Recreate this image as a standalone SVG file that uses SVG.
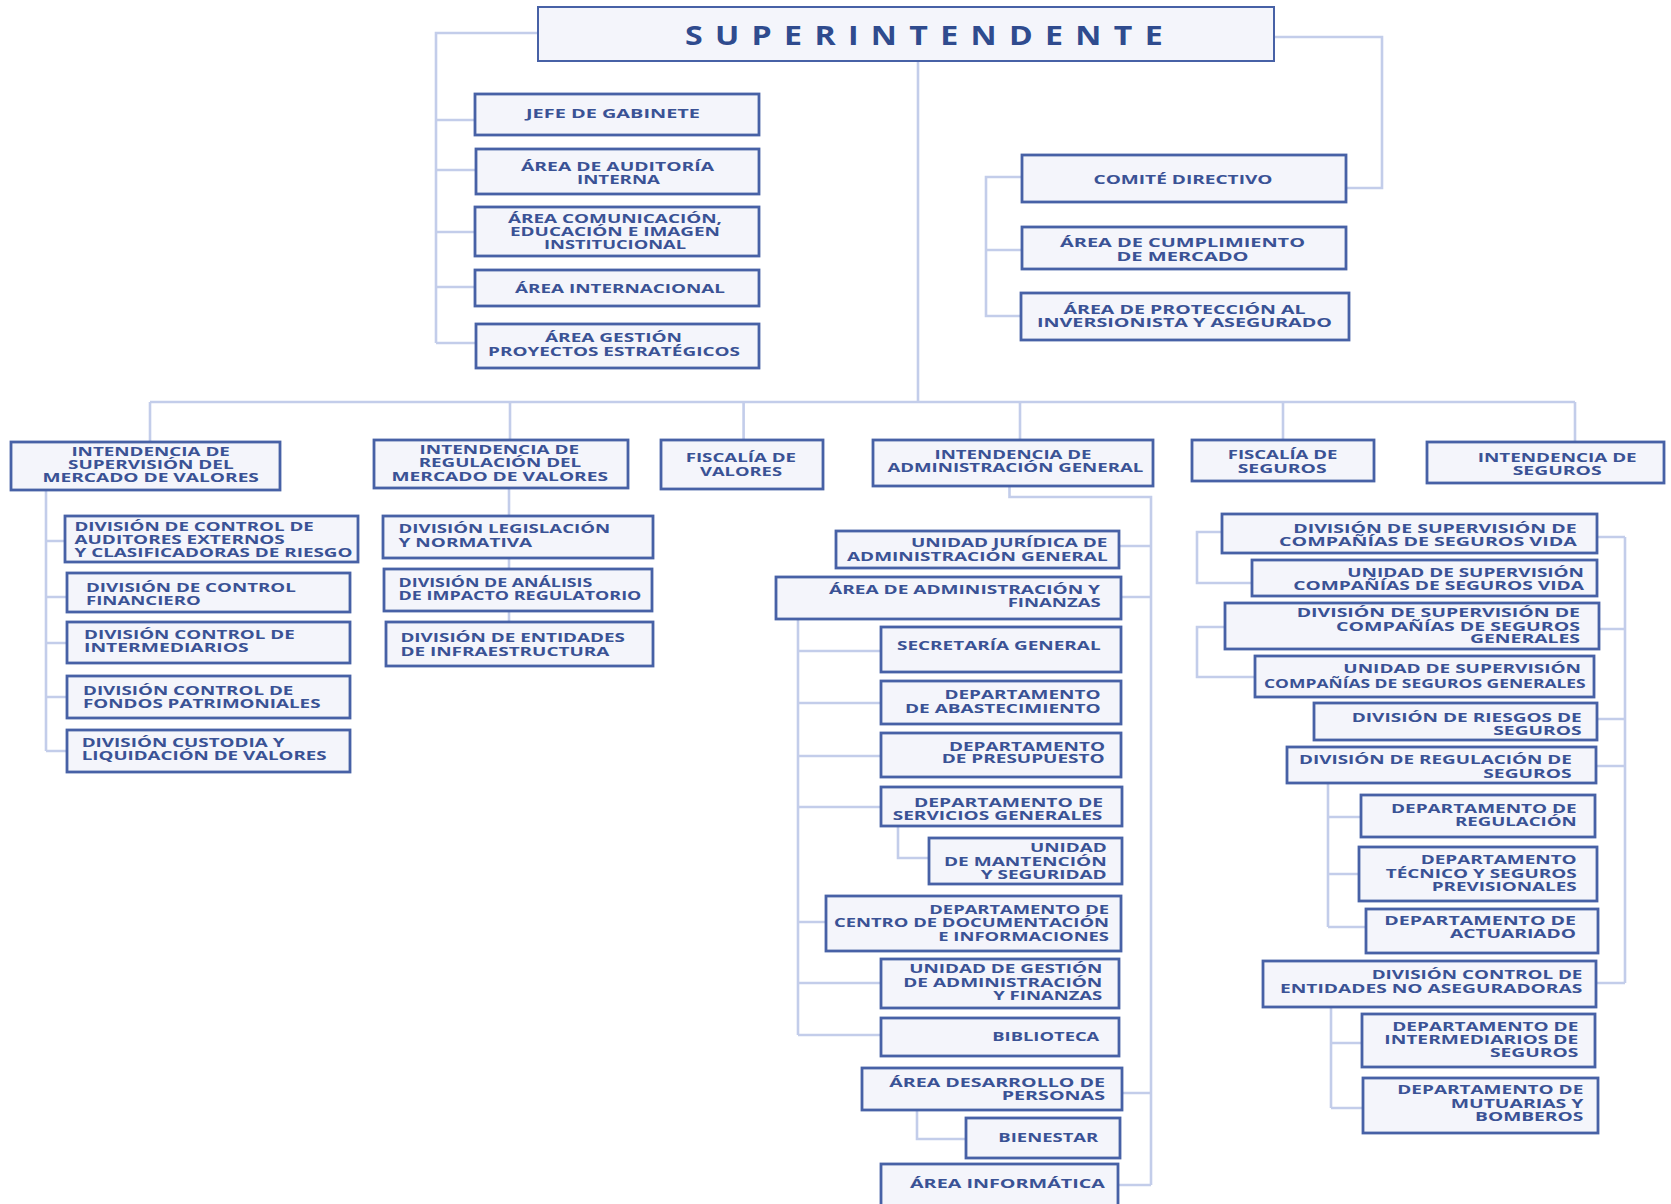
<svg xmlns="http://www.w3.org/2000/svg" width="1671" height="1204" viewBox="0 0 1671 1204">
<style>
.box{fill:#f4f5fb;stroke:#4761a6;stroke-width:2.8}
.top{stroke-width:2}
.t{font-family:"Open Sans","Liberation Sans",sans-serif;font-weight:700;font-size:13px;fill:#3a5295}
.title{font-family:"Open Sans","Liberation Sans",sans-serif;font-weight:700;font-size:26px;letter-spacing:10px;fill:#2f4b8e}
.c{fill:none;stroke:#c3cdea;stroke-width:2.6}
</style>
<rect width="1671" height="1204" fill="#ffffff"/>
<g id="connectors" class="c">
<path d="M538 33H436V343M436 120H475M436 170H476M436 232H475M436 287H475M436 343H476"/>
<path d="M1274 37H1382V188H1346"/>
<path d="M1022 177H986V316H1021M986 250H1022"/>
<path d="M918 61V402M150 402H1575M150 402V442M510 402V440M743.6 402V440M1020 402V440M1283 402V440M1575 402V442"/>
<path d="M46 490V751M46 541H65M46 597H67M46 643H67M46 697H67M46 751H67"/>
<path d="M509 488V622"/>
<path d="M1009.5 486V497H1151V1185M1119 546H1151M1121 597H1151M1122 1093H1151M1118 1185H1151"/>
<path d="M798 619V1035M798 651H881M798 703H881M798 756H881M798 807H881M798 922H826M798 983H881M798 1035H881"/>
<path d="M898 826V858H929"/>
<path d="M917 1110V1139H966"/>
<path d="M1625 537V983M1597 537H1625M1599 629H1625M1597 719H1625M1596 766H1625M1596 983H1625"/>
<path d="M1222 532H1197V583H1252M1225 627H1197V677H1255"/>
<path d="M1328 783V927M1328 817H1361M1328 874H1359M1328 927H1366"/>
<path d="M1331 1007V1108M1331 1043H1362M1331 1108H1363"/>
</g>
<g id="superintendente"><rect class="box top" x="538" y="7" width="736" height="54"/><text class="title" x="685" y="44.5" textLength="490" lengthAdjust="spacingAndGlyphs">SUPERINTENDENTE</text></g>
<g id="jefe-gabinete"><rect class="box" x="475" y="94" width="284" height="41"/><text class="t" x="526" y="117.7" textLength="174" lengthAdjust="spacingAndGlyphs">JEFE DE GABINETE</text></g>
<g id="auditoria"><rect class="box" x="476" y="149" width="283" height="45"/><text class="t" x="521" y="170.7" textLength="193" lengthAdjust="spacingAndGlyphs">ÁREA DE AUDITORÍA</text><text class="t" x="577" y="184" textLength="83" lengthAdjust="spacingAndGlyphs">INTERNA</text></g>
<g id="comunicacion"><rect class="box" x="475" y="207" width="284" height="49"/><text class="t" x="508" y="223.3" textLength="214" lengthAdjust="spacingAndGlyphs">ÁREA COMUNICACIÓN,</text><text class="t" x="510" y="236" textLength="210" lengthAdjust="spacingAndGlyphs">EDUCACIÓN E IMAGEN</text><text class="t" x="544" y="249.3" textLength="142" lengthAdjust="spacingAndGlyphs">INSTITUCIONAL</text></g>
<g id="internacional"><rect class="box" x="475" y="270" width="284" height="36"/><text class="t" x="515" y="292.7" textLength="210" lengthAdjust="spacingAndGlyphs">ÁREA INTERNACIONAL</text></g>
<g id="gestion-proyectos"><rect class="box" x="476" y="324" width="283" height="44"/><text class="t" x="545" y="342.3" textLength="137" lengthAdjust="spacingAndGlyphs">ÁREA GESTIÓN</text><text class="t" x="488" y="355.7" textLength="252" lengthAdjust="spacingAndGlyphs">PROYECTOS ESTRATÉGICOS</text></g>
<g id="comite"><rect class="box" x="1022" y="155" width="324" height="47"/><text class="t" x="1093.5" y="184.3" textLength="179" lengthAdjust="spacingAndGlyphs">COMITÉ DIRECTIVO</text></g>
<g id="cumplimiento"><rect class="box" x="1022" y="227" width="324" height="42"/><text class="t" x="1060" y="247.3" textLength="245" lengthAdjust="spacingAndGlyphs">ÁREA DE CUMPLIMIENTO</text><text class="t" x="1116.5" y="260.7" textLength="132" lengthAdjust="spacingAndGlyphs">DE MERCADO</text></g>
<g id="proteccion"><rect class="box" x="1021" y="293" width="328" height="47"/><text class="t" x="1063.5" y="314" textLength="242" lengthAdjust="spacingAndGlyphs">ÁREA DE PROTECCIÓN AL</text><text class="t" x="1037" y="327.3" textLength="295" lengthAdjust="spacingAndGlyphs">INVERSIONISTA Y ASEGURADO</text></g>
<g id="ismv"><rect class="box" x="11" y="442" width="269" height="48"/><text class="t" x="71.4" y="455.7" textLength="158.5" lengthAdjust="spacingAndGlyphs">INTENDENCIA DE</text><text class="t" x="68" y="469" textLength="165.6" lengthAdjust="spacingAndGlyphs">SUPERVISIÓN DEL</text><text class="t" x="42.4" y="482.3" textLength="216.5" lengthAdjust="spacingAndGlyphs">MERCADO DE VALORES</text></g>
<g id="irmv"><rect class="box" x="374" y="440" width="254" height="48"/><text class="t" x="419.6" y="454" textLength="159.4" lengthAdjust="spacingAndGlyphs">INTENDENCIA DE</text><text class="t" x="418.7" y="467.3" textLength="162.5" lengthAdjust="spacingAndGlyphs">REGULACIÓN DEL</text><text class="t" x="391.5" y="480.7" textLength="216.5" lengthAdjust="spacingAndGlyphs">MERCADO DE VALORES</text></g>
<g id="fiscalia-valores"><rect class="box" x="661" y="440" width="162" height="49"/><text class="t" x="685.7" y="462.3" textLength="110.3" lengthAdjust="spacingAndGlyphs">FISCALÍA DE</text><text class="t" x="700" y="475.7" textLength="82" lengthAdjust="spacingAndGlyphs">VALORES</text></g>
<g id="iag"><rect class="box" x="873" y="440" width="280" height="46"/><text class="t" x="934.5" y="459" textLength="157" lengthAdjust="spacingAndGlyphs">INTENDENCIA DE</text><text class="t" x="887.4" y="472.3" textLength="256" lengthAdjust="spacingAndGlyphs">ADMINISTRACIÓN GENERAL</text></g>
<g id="fiscalia-seguros"><rect class="box" x="1192" y="440" width="182" height="41"/><text class="t" x="1227.7" y="459.3" textLength="109.7" lengthAdjust="spacingAndGlyphs">FISCALÍA DE</text><text class="t" x="1237.7" y="472.7" textLength="89" lengthAdjust="spacingAndGlyphs">SEGUROS</text></g>
<g id="iseg"><rect class="box" x="1427" y="442" width="237" height="41"/><text class="t" x="1477.7" y="461.7" textLength="159" lengthAdjust="spacingAndGlyphs">INTENDENCIA DE</text><text class="t" x="1512.7" y="475" textLength="89" lengthAdjust="spacingAndGlyphs">SEGUROS</text></g>
<g id="div-auditores"><rect class="box" x="65" y="516" width="293" height="46"/><text class="t" x="74.5" y="530.7" textLength="239.3" lengthAdjust="spacingAndGlyphs">DIVISIÓN DE CONTROL DE</text><text class="t" x="74.5" y="544" textLength="210.3" lengthAdjust="spacingAndGlyphs">AUDITORES EXTERNOS</text><text class="t" x="74.5" y="557.3" textLength="278" lengthAdjust="spacingAndGlyphs">Y CLASIFICADORAS DE RIESGO</text></g>
<g id="div-financiero"><rect class="box" x="67" y="573" width="283" height="39"/><text class="t" x="86" y="592.3" textLength="209.8" lengthAdjust="spacingAndGlyphs">DIVISIÓN DE CONTROL</text><text class="t" x="86" y="605" textLength="114.7" lengthAdjust="spacingAndGlyphs">FINANCIERO</text></g>
<g id="div-intermediarios"><rect class="box" x="67" y="622" width="283" height="41"/><text class="t" x="84" y="639.3" textLength="210.7" lengthAdjust="spacingAndGlyphs">DIVISIÓN CONTROL DE</text><text class="t" x="84" y="652.3" textLength="164.7" lengthAdjust="spacingAndGlyphs">INTERMEDIARIOS</text></g>
<g id="div-fondos"><rect class="box" x="67" y="676" width="283" height="42"/><text class="t" x="83" y="695" textLength="210.3" lengthAdjust="spacingAndGlyphs">DIVISIÓN CONTROL DE</text><text class="t" x="83" y="708.3" textLength="237.5" lengthAdjust="spacingAndGlyphs">FONDOS PATRIMONIALES</text></g>
<g id="div-custodia"><rect class="box" x="67" y="730" width="283" height="42"/><text class="t" x="81.7" y="746.7" textLength="202.7" lengthAdjust="spacingAndGlyphs">DIVISIÓN CUSTODIA Y</text><text class="t" x="81.7" y="760" textLength="245" lengthAdjust="spacingAndGlyphs">LIQUIDACIÓN DE VALORES</text></g>
<g id="div-legislacion"><rect class="box" x="383" y="516" width="270" height="42"/><text class="t" x="398.6" y="533.3" textLength="211.6" lengthAdjust="spacingAndGlyphs">DIVISIÓN LEGISLACIÓN</text><text class="t" x="398.6" y="546.7" textLength="133.5" lengthAdjust="spacingAndGlyphs">Y NORMATIVA</text></g>
<g id="div-analisis"><rect class="box" x="384" y="569" width="268" height="42"/><text class="t" x="398.6" y="586.7" textLength="193.7" lengthAdjust="spacingAndGlyphs">DIVISIÓN DE ANÁLISIS</text><text class="t" x="398.6" y="600" textLength="242.8" lengthAdjust="spacingAndGlyphs">DE IMPACTO REGULATORIO</text></g>
<g id="div-entidades-infra"><rect class="box" x="386" y="622" width="267" height="44"/><text class="t" x="400.4" y="642.3" textLength="224.5" lengthAdjust="spacingAndGlyphs">DIVISIÓN DE ENTIDADES</text><text class="t" x="400.4" y="655.7" textLength="209" lengthAdjust="spacingAndGlyphs">DE INFRAESTRUCTURA</text></g>
<g id="unidad-juridica"><rect class="box" x="836" y="531" width="283" height="37"/><text class="t" x="911" y="547.3" textLength="196.4" lengthAdjust="spacingAndGlyphs">UNIDAD JURÍDICA DE</text><text class="t" x="847" y="560.7" textLength="260.7" lengthAdjust="spacingAndGlyphs">ADMINISTRACIÓN GENERAL</text></g>
<g id="area-adm-finanzas"><rect class="box" x="776" y="577" width="345" height="42"/><text class="t" x="829" y="594.3" textLength="271" lengthAdjust="spacingAndGlyphs">ÁREA DE ADMINISTRACIÓN Y</text><text class="t" x="1007.7" y="607.3" textLength="93" lengthAdjust="spacingAndGlyphs">FINANZAS</text></g>
<g id="secretaria"><rect class="box" x="881" y="627" width="240" height="45"/><text class="t" x="897" y="650" textLength="203.6" lengthAdjust="spacingAndGlyphs">SECRETARÍA GENERAL</text></g>
<g id="abastecimiento"><rect class="box" x="881" y="681" width="240" height="43"/><text class="t" x="944.5" y="699" textLength="156" lengthAdjust="spacingAndGlyphs">DEPARTAMENTO</text><text class="t" x="905" y="712.7" textLength="195.7" lengthAdjust="spacingAndGlyphs">DE ABASTECIMIENTO</text></g>
<g id="presupuesto"><rect class="box" x="881" y="733" width="240" height="44"/><text class="t" x="949" y="750.7" textLength="156" lengthAdjust="spacingAndGlyphs">DEPARTAMENTO</text><text class="t" x="941.7" y="763.3" textLength="163" lengthAdjust="spacingAndGlyphs">DE PRESUPUESTO</text></g>
<g id="servicios-generales"><rect class="box" x="881" y="787" width="241" height="39"/><text class="t" x="914" y="806.5" textLength="189" lengthAdjust="spacingAndGlyphs">DEPARTAMENTO DE</text><text class="t" x="892.7" y="820" textLength="209.7" lengthAdjust="spacingAndGlyphs">SERVICIOS GENERALES</text></g>
<g id="mantencion"><rect class="box" x="929" y="838" width="193" height="46"/><text class="t" x="1030" y="852.3" textLength="76.7" lengthAdjust="spacingAndGlyphs">UNIDAD</text><text class="t" x="944" y="865.7" textLength="162.7" lengthAdjust="spacingAndGlyphs">DE MANTENCIÓN</text><text class="t" x="980.7" y="879" textLength="126" lengthAdjust="spacingAndGlyphs">Y SEGURIDAD</text></g>
<g id="centro-documentacion"><rect class="box" x="826" y="896" width="295" height="55"/><text class="t" x="929.3" y="914" textLength="179.7" lengthAdjust="spacingAndGlyphs">DEPARTAMENTO DE</text><text class="t" x="834" y="927.3" textLength="275" lengthAdjust="spacingAndGlyphs">CENTRO DE DOCUMENTACIÓN</text><text class="t" x="938.3" y="940.7" textLength="170.7" lengthAdjust="spacingAndGlyphs">E INFORMACIONES</text></g>
<g id="unidad-gestion"><rect class="box" x="881" y="959" width="238" height="49"/><text class="t" x="909.3" y="973.3" textLength="193" lengthAdjust="spacingAndGlyphs">UNIDAD DE GESTIÓN</text><text class="t" x="903.3" y="986.7" textLength="199" lengthAdjust="spacingAndGlyphs">DE ADMINISTRACIÓN</text><text class="t" x="993.3" y="1000" textLength="109" lengthAdjust="spacingAndGlyphs">Y FINANZAS</text></g>
<g id="biblioteca"><rect class="box" x="881" y="1018" width="238" height="38"/><text class="t" x="992.3" y="1040.7" textLength="107" lengthAdjust="spacingAndGlyphs">BIBLIOTECA</text></g>
<g id="desarrollo-personas"><rect class="box" x="862" y="1068" width="260" height="42"/><text class="t" x="889.3" y="1086.7" textLength="215.7" lengthAdjust="spacingAndGlyphs">ÁREA DESARROLLO DE</text><text class="t" x="1001.7" y="1100" textLength="103.3" lengthAdjust="spacingAndGlyphs">PERSONAS</text></g>
<g id="bienestar"><rect class="box" x="966" y="1118" width="154" height="40"/><text class="t" x="998.3" y="1142.3" textLength="100" lengthAdjust="spacingAndGlyphs">BIENESTAR</text></g>
<g id="informatica"><rect class="box" x="881" y="1164" width="237" height="50"/><text class="t" x="910" y="1188.3" textLength="195" lengthAdjust="spacingAndGlyphs">ÁREA INFORMÁTICA</text></g>
<g id="div-sup-vida"><rect class="box" x="1222" y="514" width="375" height="39"/><text class="t" x="1293.3" y="533.3" textLength="283.3" lengthAdjust="spacingAndGlyphs">DIVISIÓN DE SUPERVISIÓN DE</text><text class="t" x="1279" y="546" textLength="297.7" lengthAdjust="spacingAndGlyphs">COMPAÑÍAS DE SEGUROS VIDA</text></g>
<g id="uni-sup-vida"><rect class="box" x="1252" y="560" width="345" height="36"/><text class="t" x="1347.3" y="576.7" textLength="236.7" lengthAdjust="spacingAndGlyphs">UNIDAD DE SUPERVISIÓN</text><text class="t" x="1293.3" y="590" textLength="290.7" lengthAdjust="spacingAndGlyphs">COMPAÑÍAS DE SEGUROS VIDA</text></g>
<g id="div-sup-generales"><rect class="box" x="1225" y="603" width="374" height="46"/><text class="t" x="1296.7" y="617.3" textLength="283.3" lengthAdjust="spacingAndGlyphs">DIVISIÓN DE SUPERVISIÓN DE</text><text class="t" x="1336" y="630.7" textLength="244" lengthAdjust="spacingAndGlyphs">COMPAÑÍAS DE SEGUROS</text><text class="t" x="1470" y="643.3" textLength="110" lengthAdjust="spacingAndGlyphs">GENERALES</text></g>
<g id="uni-sup-generales"><rect class="box" x="1255" y="656" width="339" height="41"/><text class="t" x="1343.3" y="673.3" textLength="237.7" lengthAdjust="spacingAndGlyphs">UNIDAD DE SUPERVISIÓN</text><text class="t" x="1264" y="688.3" textLength="321.7" lengthAdjust="spacingAndGlyphs">COMPAÑÍAS DE SEGUROS GENERALES</text></g>
<g id="div-riesgos"><rect class="box" x="1314" y="703" width="283" height="37"/><text class="t" x="1351.7" y="721.7" textLength="230" lengthAdjust="spacingAndGlyphs">DIVISIÓN DE RIESGOS DE</text><text class="t" x="1493.3" y="735" textLength="88.3" lengthAdjust="spacingAndGlyphs">SEGUROS</text></g>
<g id="div-regulacion-seguros"><rect class="box" x="1287" y="747" width="309" height="36"/><text class="t" x="1299" y="764.3" textLength="272.7" lengthAdjust="spacingAndGlyphs">DIVISIÓN DE REGULACIÓN DE</text><text class="t" x="1483.3" y="777.7" textLength="88.3" lengthAdjust="spacingAndGlyphs">SEGUROS</text></g>
<g id="depto-regulacion"><rect class="box" x="1361" y="795" width="234" height="42"/><text class="t" x="1391" y="812.7" textLength="185.7" lengthAdjust="spacingAndGlyphs">DEPARTAMENTO DE</text><text class="t" x="1455" y="826" textLength="121.7" lengthAdjust="spacingAndGlyphs">REGULACIÓN</text></g>
<g id="depto-tecnico"><rect class="box" x="1359" y="847" width="238" height="54"/><text class="t" x="1420.7" y="864.3" textLength="156" lengthAdjust="spacingAndGlyphs">DEPARTAMENTO</text><text class="t" x="1385.7" y="877.7" textLength="191" lengthAdjust="spacingAndGlyphs">TÉCNICO Y SEGUROS</text><text class="t" x="1431.7" y="890.7" textLength="145" lengthAdjust="spacingAndGlyphs">PREVISIONALES</text></g>
<g id="depto-actuariado"><rect class="box" x="1366" y="909" width="232" height="44"/><text class="t" x="1384.3" y="925" textLength="191.7" lengthAdjust="spacingAndGlyphs">DEPARTAMENTO  DE</text><text class="t" x="1450" y="938.3" textLength="126" lengthAdjust="spacingAndGlyphs">ACTUARIADO</text></g>
<g id="div-no-aseguradoras"><rect class="box" x="1263" y="961" width="333" height="46"/><text class="t" x="1371.7" y="979.3" textLength="210.7" lengthAdjust="spacingAndGlyphs">DIVISIÓN CONTROL DE</text><text class="t" x="1280" y="992.7" textLength="302.3" lengthAdjust="spacingAndGlyphs">ENTIDADES NO ASEGURADORAS</text></g>
<g id="depto-intermediarios"><rect class="box" x="1362" y="1014" width="233" height="53"/><text class="t" x="1392.3" y="1031" textLength="186" lengthAdjust="spacingAndGlyphs">DEPARTAMENTO DE</text><text class="t" x="1384.3" y="1044.3" textLength="194" lengthAdjust="spacingAndGlyphs">INTERMEDIARIOS DE</text><text class="t" x="1490" y="1057.3" textLength="88.3" lengthAdjust="spacingAndGlyphs">SEGUROS</text></g>
<g id="depto-mutuarias"><rect class="box" x="1363" y="1078" width="235" height="55"/><text class="t" x="1397.3" y="1094.3" textLength="186" lengthAdjust="spacingAndGlyphs">DEPARTAMENTO DE</text><text class="t" x="1450.7" y="1107.7" textLength="132.7" lengthAdjust="spacingAndGlyphs">MUTUARIAS Y</text><text class="t" x="1475" y="1121" textLength="108.3" lengthAdjust="spacingAndGlyphs">BOMBEROS</text></g>
</svg>
